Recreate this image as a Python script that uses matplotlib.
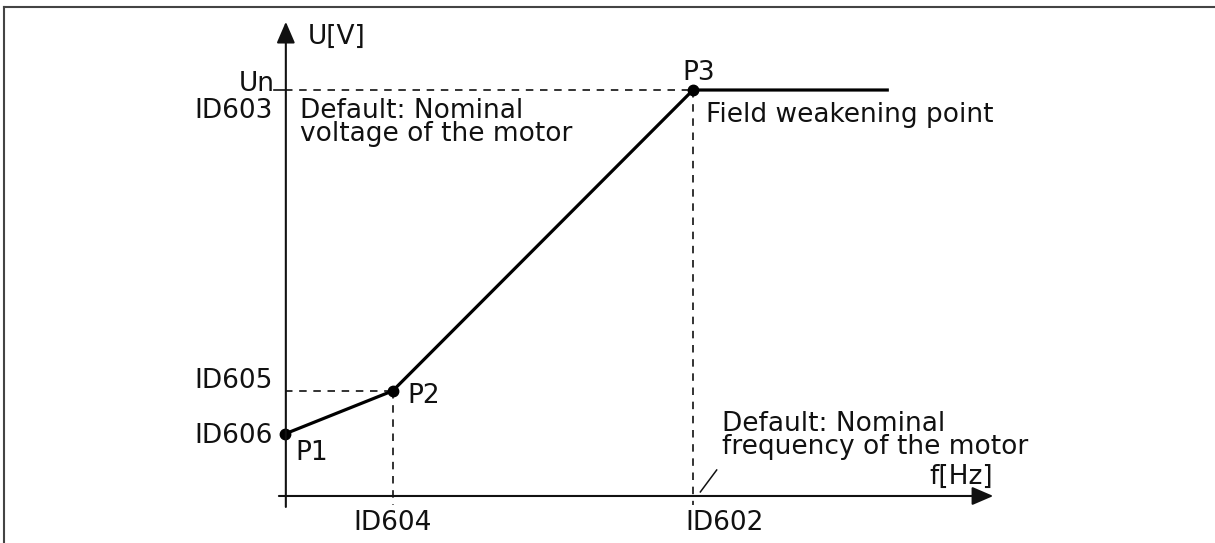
import matplotlib.pyplot as plt
from matplotlib.lines import Line2D

# U/f curve: frequency in Hz, voltage in % of Un
f_pts = [0, 13.2, 50, 74]
u_pts = [15.3, 25.9, 100, 100]
point_names = ["P1", "P2", "P3"]

f_ticks = [13.2, 50]
f_tick_labels = ["ID604", "ID602"]
u_labels = ["ID606", "ID605", "ID603"]

fig = plt.figure(figsize=(12.15, 5.43), dpi=100)
ax = fig.add_axes([0, 0, 1, 1])
ax.set_xlim(-34.93, 113.97)
ax.set_ylim(-11.58, 122.17)
ax.axis("off")

fs = 19
col = "#111111"

# frame (top and left only)
fig.add_artist(Line2D([0.003, 1], [0.987, 0.987], transform=fig.transFigure, color="#444444", lw=1.5))
fig.add_artist(Line2D([0.003, 0.003], [0, 0.987], transform=fig.transFigure, color="#444444", lw=1.5))

# axes with arrows
arrow = dict(arrowstyle="-|>,head_length=0.65,head_width=0.28", lw=1.5, color=col,
             mutation_scale=20, shrinkA=0, shrinkB=0)
ax.annotate("", xy=(86.8, 0), xytext=(-0.75, 0), arrowprops=arrow)
ax.annotate("", xy=(0.1, 116.8), xytext=(0.1, -2.7), arrowprops=arrow)

# dashed helper lines
dash = dict(color=col, lw=1.2, dashes=(4.5, 4))
ax.plot([0, f_pts[2]], [u_pts[2], u_pts[2]], **dash)
ax.plot([f_pts[2], f_pts[2]], [u_pts[2], -2.2], **dash)
ax.plot([0, f_pts[1]], [u_pts[1], u_pts[1]], **dash)
ax.plot([f_pts[1], f_pts[1]], [u_pts[1], -2.2], **dash)
ax.plot([-1.3, 0], [100, 100], color=col, lw=1.2)

# curve and points
ax.plot(f_pts, u_pts, color="black", lw=2.3, solid_capstyle="butt")
ax.plot(f_pts[:3], u_pts[:3], "o", color="black", ms=7.5)

# leader line for lower note
ax.plot([50.9, 52.9], [1.0, 6.4], color=col, lw=1.1)

txt = dict(fontsize=fs, color=col)
ax.text(2.82, 113.1, "U[V]", ha="left", va="center", **txt)
ax.text(-1.3, 101.5, "Un", ha="right", va="center", **txt)
ax.text(-1.47, 94.8, u_labels[2], ha="right", va="center", **txt)
ax.text(-1.47, 28.3, u_labels[1], ha="right", va="center", **txt)
ax.text(-1.47, 14.8, u_labels[0], ha="right", va="center", **txt)

ax.text(1.84, 98.0, "Default: Nominal\nvoltage of the motor", ha="left", va="top",
        linespacing=0.85, **txt)
ax.text(51.6, 92.1, "Field weakening point", ha="left", va="baseline", **txt)

ax.text(1.23, 8.9, point_names[0], ha="left", va="baseline", **txt)
ax.text(14.95, 22.9, point_names[1], ha="left", va="baseline", **txt)
ax.text(48.65, 102.5, point_names[2], ha="left", va="baseline", **txt)

ax.text(f_ticks[0], -8.4, f_tick_labels[0], ha="center", va="baseline", **txt)
ax.text(f_ticks[1] + 3.9, -8.4, f_tick_labels[1], ha="center", va="baseline", **txt)

ax.text(53.55, 21.0, "Default: Nominal\nfrequency of the motor", ha="left", va="top",
        linespacing=0.85, **txt)
ax.text(86.8, 3.0, "f[Hz]", ha="right", va="baseline", **txt)

fig.savefig("out.png", dpi=100)
